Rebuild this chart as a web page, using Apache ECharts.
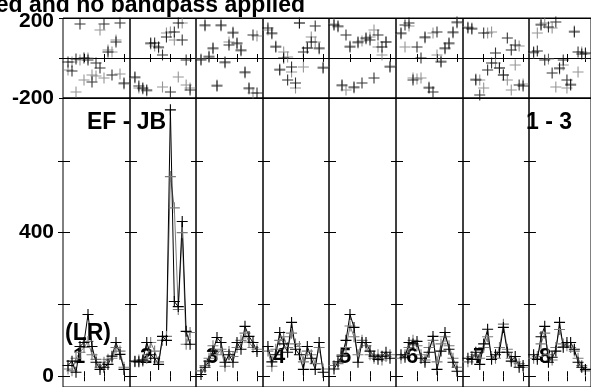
<!DOCTYPE html>
<html><head><meta charset="utf-8">
<script src="https://cdn.jsdelivr.net/npm/echarts@6/dist/echarts.min.js"></script>
<style>html,body{margin:0;padding:0;background:#fff}#c{width:591px;height:387px}</style>
</head><body><div id="c"></div>
<script>
// ---- data ----
const channels = [1,2,3,4,5,6,7,8,9,10,11,12,13,14,15];
const panelLabels = ['1','2','3','4','5','6','7','8'];
const titleText = 'ed and no bandpass applied';
const baselineText = 'EF - JB';
const stokesText = '(LR)';
const timeText = '1 - 3';
const phaseTicks = [-200, 0, 200];
const ampTicks = [0, 200, 400, 600];
const ampLabels = [0, 400];
const chanTicks = [5, 10, 15];

const ampBlack = [
  [30, 42, 11, 83, 94, 172, 83, 39, 19, 25, 33, 56, 94, 61, 19],
  [42, 40, 45, 94, 60, 50, 33, 111, 100, 742, 208, 194, 431, 125, 89],
  [5, 25, 42, 70, 108, 94, 39, 60, 39, 94, 75, 139, 111, 94, 69],
  [83, 40, 60, 122, 90, 67, 150, 75, 60, 19, 83, 50, 19, 94, 11],
  [20, 40, 56, 100, 172, 136, 39, 94, 94, 70, 56, 47, 56, 67, 50],
  [60, 53, 94, 90, 97, 50, 39, 67, 111, 19, 70, 122, 75, 39, 14],
  [50, 47, 67, 33, 90, 131, 47, 60, 67, 136, 67, 42, 55, 25, 30],
  [60, 47, 110, 139, 39, 53, 70, 150, 81, 94, 94, 75, 39, 25, 19]
];
const ampGray = [
  [20, 15, 50, 67, 80, 97, 60, 47, 25, 39, 47, 50, 80, 70, 25],
  [40, 45, 42, 50, 94, 70, 40, 100, 111, 556, 469, 186, 400, 89, 122],
  [15, 30, 50, 85, 60, 75, 28, 69, 55, 80, 100, 120, 95, 80, 75],
  [70, 28, 75, 100, 110, 80, 120, 90, 83, 40, 70, 60, 35, 80, 20],
  [30, 35, 60, 80, 140, 110, 60, 100, 85, 60, 50, 60, 45, 55, 60],
  [50, 60, 80, 100, 85, 60, 45, 80, 100, 40, 90, 110, 85, 50, 25],
  [40, 55, 60, 50, 80, 110, 55, 50, 80, 145, 75, 50, 40, 35, 25],
  [50, 55, 90, 120, 60, 45, 80, 130, 90, 85, 80, 70, 50, 30, 15]
];
const phaseBlack = [
  [-20, -65, -5, 170, 0, -10, -120, -25, -50, 170, 30, -85, 80, 175, -125],
  [-95, -140, -150, -160, 75, 75, 55, 15, 105, -170, 130, 175, 90, -10, -160],
  [-10, 165, 5, 50, -140, 165, -20, 65, 125, 75, 40, -70, -150, 115, -175],
  [150, 125, 55, -60, 0, -110, -45, -125, 175, 30, 50, 80, 160, 50, -50],
  [165, 160, -135, 115, 55, -145, 80, -125, 100, 90, -100, 115, 55, 80, -45],
  [125, 165, 175, -110, 55, 0, 105, -150, -170, 130, -20, 50, 75, 130, 180],
  [150, 145, -110, -185, 125, -60, -25, 25, -50, -85, 100, 40, 65, -135, -140],
  [30, 35, 165, -10, 155, -75, 180, -50, -10, -110, -135, 130, 30, 20, 25]
];
const phaseGray = [
  [-60, -20, -170, -10, -110, 0, -85, -90, 140, -100, 40, 30, 90, -80, -130],
  [-100, -150, -155, -165, 70, 60, 50, -145, 125, 130, 90, -95, 175, -135, -150],
  [-5, 160, 10, 45, -135, 160, -25, 80, 130, 70, 35, -75, -155, -175, 110],
  [140, 120, 60, -55, 30, 5, -70, -150, 175, -45, 50, 105, 80, 45, -45],
  [170, 155, -140, -160, 60, -150, 75, 85, 95, 105, 140, 55, 15, 80, -40],
  [120, 55, 160, -100, -105, -100, 100, -145, 125, 15, -15, 45, 70, 125, 175],
  [155, 150, -105, -110, -150, 125, 130, -25, -50, -85, -110, -160, -35, 60, -130],
  [25, 125, 170, 175, -5, 150, -145, -55, -35, -150, -130, 135, -70, 30, 20]
];

// ---- layout ----
const FAMILY = '"Liberation Sans", Arial, sans-serif';
const FONT_BIG = 'bold 23px ' + FAMILY;
const FONT_NUM = 'bold 22px ' + FAMILY;
const lefts = [63, 130, 196, 263, 329, 396, 463, 529, 596];
const PH_TOP = 18, PH_H = 80, AM_TOP = 98, AM_H = 290;
const AMP_MIN = -30, AMP_MAX = 775;
const BLACK = '#000', GRAY = '#7a7a7a';
const PLUS = 'path://M4.5,0H5.5V4.5H10V5.5H5.5V10H4.5V5.5H0V4.5H4.5Z';

const grid = [], xAxis = [], yAxis = [], series = [];
function pair(arr){ return arr.map((v,k)=>[channels[k], v]); }
const lblBase = {color:'#000', fontFamily: FAMILY, fontWeight:'bold', fontSize:21};

for (let row = 0; row < 2; row++) {
  for (let i = 0; i < 8; i++) {
    const g = row*8 + i;
    grid.push({left: lefts[i], width: lefts[i+1]-lefts[i],
      top: row ? AM_TOP : PH_TOP, height: row ? AM_H : PH_H,
      show: true, borderColor: '#000', borderWidth: 1, backgroundColor: 'transparent'});
    ['bottom','top'].forEach(pos => {
      xAxis.push({type:'value', gridIndex:g, position:pos, min:-0.25, max:16.5,
        axisLine:{show:false}, splitLine:{show:false}, axisLabel:{show:false},
        axisTick:{show:true, inside:true, length: row ? 5 : 4, customValues: chanTicks,
          lineStyle:{color:'#000', width:1}}});
    });
    ['left','right'].forEach((pos, side) => {
      if (row === 0) {
        yAxis.push({type:'value', gridIndex:g, position:pos, min:-200, max:200, interval:200,
          axisLine:{show:false},
          splitLine:{show: side===0, lineStyle:{color:'#000', width:1}},
          axisTick:{show:true, inside:true, length:5, lineStyle:{color:'#000'}},
          axisLabel:Object.assign({show: i===0 && side===0, margin:9,
            formatter: v => v === 0 ? '' : (v > 0 ? '{t|' + v + '}' : '{b|' + v + '}'),
            rich:{t:Object.assign({padding:[7,0,0,0]}, lblBase), b:Object.assign({padding:[0,0,0,0]}, lblBase)}}, lblBase)});
      } else {
        yAxis.push({type:'value', gridIndex:g, position:pos, min:AMP_MIN, max:AMP_MAX,
          axisLine:{show:false}, splitLine:{show:false},
          axisTick:{show:true, inside:true, length:6, customValues: ampTicks, lineStyle:{color:'#000'}},
          axisLabel:Object.assign({show: i===0 && side===0, margin:9, customValues: ampLabels}, lblBase)});
      }
    });
    if (row === 0) {
      [[phaseGray, GRAY], [phaseBlack, BLACK]].forEach(([arr, col]) => {
        series.push({type:'scatter', xAxisIndex:2*g, yAxisIndex:2*g, data: pair(arr[i]),
          symbol: PLUS, symbolSize: 11, itemStyle:{color: col}, silent:true});
      });
    } else {
      [[ampGray, GRAY], [ampBlack, BLACK]].forEach(([arr, col]) => {
        series.push({type:'line', xAxisIndex:2*g, yAxisIndex:2*g, data: pair(arr[i]),
          symbol: PLUS, symbolSize: 11, showAllSymbol: true, itemStyle:{color: col},
          lineStyle:{color: col, width:1}, silent:true});
      });
    }
  }
}

const graphic = [
  {type:'text', right: 591-305, top: -6, style:{text: titleText, font: FONT_BIG, fill:'#000'}},
  {type:'text', left: 87, top: 111, style:{text: baselineText, font: FONT_BIG, fill:'#000'}},
  {type:'text', left: 526, top: 111, style:{text: timeText, font: FONT_BIG, fill:'#000'}},
  {type:'text', left: 65, top: 322, style:{text: stokesText, font: FONT_BIG, fill:'#000'}}
];
panelLabels.forEach((t, i) => {
  graphic.push({type:'text', left: lefts[i] + 10, top: 346, style:{text: t, font: FONT_NUM, fill:'#000'}});
});

const chart = echarts.init(document.getElementById('c'), null, {renderer:'canvas'});
chart.setOption({animation:false, grid, xAxis, yAxis, series, graphic});
</script></body></html>
